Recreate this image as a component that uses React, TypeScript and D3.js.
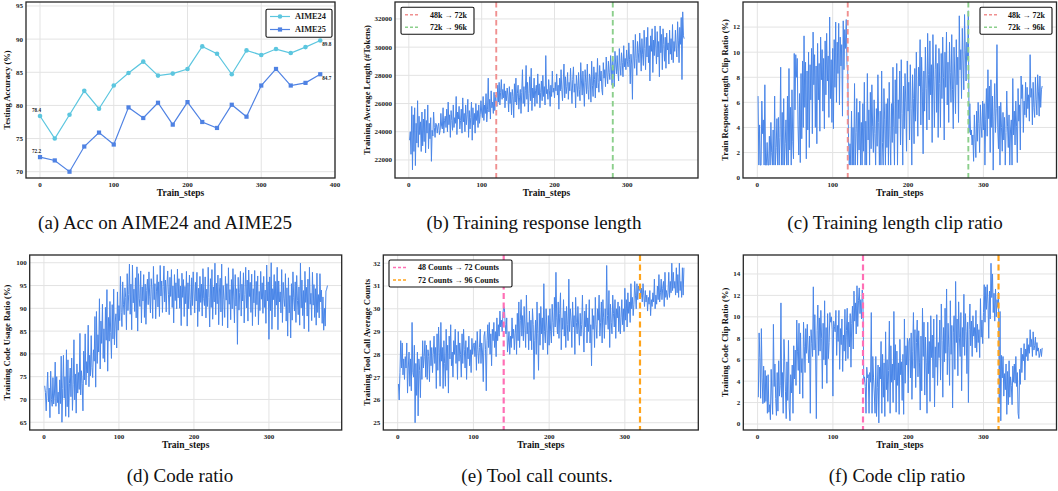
import React from "react";
import * as d3 from "d3";

const FONT = "'Liberation Serif', 'Times New Roman', serif";
const BLUE = "#4a86e8";

// ---------- Panel (a) ----------
const STEPS_A = [0, 20, 40, 60, 80, 100, 120, 140, 160, 180, 200, 220, 240, 260, 280, 300, 320, 340, 360, 380];
const AIME24 = [78.4, 75.0, 78.6, 82.2, 79.5, 83.0, 84.9, 86.6, 84.5, 84.8, 85.5, 88.9, 87.8, 84.7, 88.3, 87.6, 88.5, 87.9, 88.8, 89.8];
const AIME25 = [72.2, 71.7, 70.0, 73.8, 75.9, 74.1, 79.7, 78.1, 80.4, 77.1, 80.5, 77.5, 76.6, 80.1, 78.3, 83.0, 85.5, 83.0, 83.4, 84.7];

// ---------- Panel (b) response length ----------
const LENGTH = [
  23400, 24000, 22400, 25800, 21300, 25200, 22600, 25700, 21600, 24600, 23200, 26200, 22900, 25100, 23800, 24700, 22600, 25400, 23000, 24900,
  23300, 25600, 22500, 24800, 23900, 25900, 22800, 24600, 23500, 25000, 21900, 24100, 23700, 25400, 24300, 23600, 24600, 24500, 23900, 24400,
  24600, 23800, 24100, 25300, 24400, 24200, 25700, 23900, 24800, 25100, 24300, 25600, 24000, 26100, 24500, 25200, 23600, 25500, 24800, 24100,
  25900, 24300, 25000, 24600, 26500, 23800, 25400, 24900, 25800, 24200, 24800, 25600, 23900, 26400, 24700, 25300, 24000, 25900, 24500, 25200,
  26300, 23600, 25500, 24200, 25000, 26100, 23400, 25700, 24500, 25300, 23900, 26000, 24800, 25500, 24300, 25900, 24600, 25200, 26200, 25400,
  25000, 26500, 24800, 25900, 25300, 26700, 24700, 25600, 27800, 25400, 26300, 24900, 26900, 25700, 26100, 25300, 26800, 25500, 26600, 26000,
  25800, 27300, 26100, 27500, 25900, 26800, 27700, 26300, 27000, 26400, 27400, 25700, 26900, 26200, 27100, 26600, 25400, 27200, 26000, 26800,
  25200, 27000, 26500, 25000, 27400, 26100, 27800, 25900, 26700, 27300, 25600, 26400, 27000, 25300, 26800, 28400, 26000, 27200, 25800, 26900,
  28700, 26300, 27500, 25400, 26700, 27900, 26200, 28500, 25500, 27100, 26400, 27800, 25800, 26900, 27300, 26000, 28100, 26600, 27400, 25700,
  26800, 27600, 26200, 28000, 26500, 27200, 25900, 29400, 26700, 27000, 26300, 27700, 26900, 25800, 27300, 26500, 28300, 26800, 27100, 26400,
  27500, 26900, 28100, 26600, 27300, 25600, 27800, 26900, 28400, 27000, 26200, 27600, 28800, 26400, 27900, 26700, 27200, 28200, 26300, 27500,
  26900, 28500, 27100, 26000, 27700, 28600, 26800, 27400, 25700, 28000, 27300, 26500, 28200, 27000, 26200, 28900, 27600, 26600, 28300, 27100,
  25800, 28400, 27500, 26700, 28800, 27000, 26300, 28100, 27800, 26100, 29000, 27300, 26500, 28600, 27700, 26400, 28200, 27100, 29200, 27500,
  26800, 28700, 27600, 28300, 27000, 26600, 28900, 27800, 28400, 27200, 29300, 28000, 27400, 29000, 28200, 27700, 29400, 28600, 27300, 29100,
  28500, 27200, 29700, 28800, 28100, 29400, 28300, 27600, 29900, 28700, 28000, 29600, 28900, 27900, 30100, 28600, 29200, 28400, 29800, 29000,
  28600, 30300, 29100, 27400, 29500, 28800, 26300, 30500, 29300, 28500, 30900, 29200, 28000, 30400, 29600, 28900, 31000, 29800, 28300, 30600,
  29500, 28700, 31200, 29900, 28400, 30700, 29300, 31400, 28900, 30100, 27600, 30800, 29700, 31300, 28200, 30500, 29400, 31500, 30000, 28800,
  31100, 29300, 30400, 27900, 31500, 29600, 30900, 28400, 31300, 30200, 29000, 30700, 28500, 31000, 29800, 30300, 28800, 31200, 29500, 30600,
  29100, 31600, 28900, 30400, 29700, 31200, 30000, 29300, 31800, 30500, 28900, 31400, 30200, 32100, 27700, 32500, 30800, 30600,
];

// ---------- Panel (c) length clip ratio ----------
const LEN_CLIP = [
  6.5, 1.0, 4.2, 1.0, 1.0, 6.1, 3.5, 4.6, 1.0, 7.4, 1.0, 1.0, 2.8, 1.0, 1.0, 3.3, 1.0, 4.4, 2.0, 1.0,
  3.8, 1.0, 6.5, 1.0, 2.4, 4.7, 1.0, 4.8, 1.0, 3.2, 8.8, 1.0, 5.2, 1.0, 6.3, 1.0, 2.7, 4.6, 1.0, 6.5,
  1.0, 8.7, 2.2, 5.6, 1.0, 7.0, 2.9, 1.5, 9.9, 5.4, 9.8, 8.0, 9.5, 4.2, 1.8, 6.7, 1.2, 8.3, 3.1, 9.3,
  4.0, 11.3, 5.6, 9.2, 1.5, 8.5, 3.8, 10.0, 2.4, 9.0, 6.2, 10.3, 3.5, 11.6, 7.4, 9.8, 4.0, 8.9, 2.7, 10.7,
  6.2, 9.1, 3.7, 11.2, 7.8, 10.2, 5.3, 9.5, 3.9, 10.9, 6.6, 11.5, 7.7, 9.7, 4.8, 12.8, 6.3, 9.4, 4.4, 10.3,
  3.9, 11.0, 7.2, 12.4, 6.0, 10.8, 8.3, 12.3, 5.8, 11.2, 8.9, 10.6, 4.9, 12.5, 8.6, 11.8, 10.3, 12.6, 9.0, 8.5,
  3.1, 1.0, 2.7, 1.0, 5.3, 1.0, 4.0, 1.0, 7.5, 1.0, 3.6, 6.3, 1.0, 5.2, 2.2, 6.1, 1.0, 4.4, 1.0, 5.9,
  2.1, 7.6, 1.0, 4.5, 1.0, 8.3, 3.0, 5.4, 1.0, 6.8, 2.3, 7.4, 4.1, 2.0, 6.2, 3.5, 1.0, 5.5, 2.5, 8.2,
  4.4, 1.0, 5.3, 1.0, 8.5, 2.8, 1.0, 7.1, 4.6, 1.0, 5.9, 2.4, 6.3, 1.0, 7.6, 3.4, 1.0, 5.9, 2.8, 8.8,
  4.0, 1.0, 7.8, 3.5, 9.1, 1.0, 6.2, 4.7, 8.5, 2.6, 9.4, 5.1, 1.0, 7.3, 3.9, 8.3, 6.0, 2.1, 9.3, 5.3,
  7.6, 3.0, 9.0, 5.5, 1.0, 8.2, 6.3, 2.7, 8.7, 4.5, 10.0, 6.1, 3.3, 8.8, 7.3, 11.0, 4.2, 9.6, 6.9, 1.9,
  8.5, 5.3, 10.4, 7.1, 3.8, 11.5, 8.2, 4.6, 10.9, 6.6, 9.0, 2.8, 11.4, 7.7, 4.0, 8.6, 10.6, 5.2, 9.1, 3.2,
  10.3, 7.5, 4.0, 9.9, 6.3, 11.2, 8.0, 3.0, 10.0, 7.2, 11.6, 5.8, 9.2, 4.4, 10.8, 8.4, 6.0, 11.4, 7.0, 3.9,
  10.4, 8.1, 5.1, 11.0, 7.4, 9.6, 4.4, 12.9, 8.6, 10.2, 6.3, 11.9, 9.3, 7.0, 13.0, 10.1, 7.7, 10.8, 9.4, 13.3,
  3.6, 5.9, 3.4, 3.8, 2.6, 3.4, 1.3, 5.0, 3.0, 1.6, 5.3, 2.9, 6.0, 4.3, 2.0, 5.8, 4.1, 3.2, 6.1, 3.8,
  5.9, 1.0, 4.6, 7.1, 3.3, 8.6, 4.7, 7.3, 2.0, 7.8, 4.0, 6.5, 0.6, 4.9, 7.5, 3.6, 5.5, 10.6, 4.0, 2.3,
  5.7, 1.0, 6.0, 4.0, 2.1, 5.2, 3.0, 4.8, 1.0, 3.6, 6.9, 4.1, 2.4, 5.0, 1.0, 3.8, 4.6, 1.0, 7.9, 3.4,
  5.3, 2.6, 6.1, 4.1, 1.2, 7.1, 4.5, 5.8, 2.2, 8.1, 6.3, 7.4, 3.6, 6.1, 5.0, 7.6, 4.8, 7.2, 5.5, 6.6,
  4.5, 9.8, 6.4, 7.1, 4.2, 7.6, 5.6, 4.8, 8.0, 6.2, 5.0, 8.2, 6.9, 4.9, 8.1, 5.6, 7.0, 7.3,
];

// ---------- Panel (d) code usage ratio ----------
const CODE_RATIO = [
  73.0, 71.5, 67.5, 72.0, 76.0, 69.5, 72.5, 66.0, 76.2, 70.0, 68.5, 74.8, 69.0, 71.2, 78.2, 68.5, 75.0, 69.3, 71.6, 66.8,
  74.3, 69.1, 79.5, 65.0, 72.4, 79.7, 70.3, 75.0, 66.3, 80.9, 68.4, 78.7, 66.1, 73.5, 76.9, 70.6, 79.1, 67.6, 73.2, 83.1,
  69.9, 75.6, 67.0, 77.8, 71.4, 75.9, 72.2, 84.5, 71.0, 76.3, 73.5, 67.5, 80.6, 74.3, 84.4, 73.2, 78.3, 75.8, 86.3, 72.8,
  79.7, 75.2, 84.0, 77.0, 74.8, 80.9, 78.4, 88.2, 72.7, 89.3, 77.9, 84.2, 80.4, 92.1, 76.7, 87.2, 82.3, 90.9, 79.0, 85.5,
  78.2, 90.2, 83.0, 94.1, 76.2, 88.0, 82.8, 91.5, 84.7, 79.0, 90.8, 83.3, 94.2, 82.0, 87.0, 88.8, 81.3, 93.6, 85.2, 90.6,
  87.3, 97.0, 89.1, 86.0, 95.8, 90.9, 88.6, 94.5, 92.4, 85.3, 97.6, 89.5, 93.0, 99.7, 88.7, 95.3, 85.3, 99.5, 91.2, 94.2,
  89.3, 96.7, 87.9, 99.1, 85.0, 97.6, 92.2, 90.4, 98.2, 86.8, 94.7, 91.6, 97.4, 88.0, 95.3, 86.5, 93.9, 96.4, 90.8, 98.0,
  92.5, 89.0, 96.5, 94.2, 87.8, 99.2, 91.9, 95.4, 87.7, 93.6, 97.4, 90.3, 95.8, 88.2, 99.4, 92.7, 96.0, 89.1, 94.8, 99.3,
  91.4, 96.2, 89.2, 95.0, 98.2, 93.1, 88.6, 96.8, 92.6, 98.5, 90.2, 94.9, 86.8, 97.4, 91.7, 95.6, 89.9, 98.6, 92.3, 96.5,
  90.0, 94.9, 86.2, 97.7, 92.4, 96.3, 88.2, 94.8, 91.0, 98.1, 86.1, 95.6, 89.9, 97.3, 92.0, 88.5, 96.7, 90.6, 98.0, 93.8,
  89.0, 95.7, 91.6, 97.9, 86.0, 94.4, 89.3, 97.0, 91.3, 95.3, 88.3, 98.7, 92.1, 90.6, 96.9, 87.9, 94.2, 90.4, 99.0, 92.4,
  85.9, 96.5, 90.2, 98.5, 87.6, 94.7, 91.4, 99.9, 88.6, 95.5, 91.0, 97.3, 86.4, 93.8, 96.6, 89.2, 99.7, 86.2, 95.0, 92.0,
  88.0, 97.0, 91.8, 95.4, 85.7, 98.9, 90.9, 94.1, 87.5, 96.3, 89.9, 98.7, 92.7, 86.8, 97.4, 90.5, 94.3, 82.1, 96.8, 89.6,
  93.5, 98.1, 88.3, 95.3, 91.6, 97.8, 86.8, 93.0, 99.0, 90.1, 96.2, 87.2, 98.4, 92.6, 95.7, 89.1, 97.5, 86.2, 94.3, 91.2,
  98.3, 88.2, 95.9, 90.8, 97.1, 86.4, 93.7, 89.5, 98.1, 92.0, 95.6, 88.9, 97.0, 90.2, 94.0, 86.7, 99.5, 91.6, 95.8, 83.2,
  96.9, 89.5, 100.0, 85.4, 94.3, 91.9, 97.4, 88.1, 95.9, 90.7, 99.0, 85.3, 96.0, 91.4, 93.6, 89.0, 98.5, 86.9, 95.7, 92.1,
  90.4, 97.6, 87.2, 94.5, 83.9, 96.7, 89.0, 92.8, 83.5, 95.4, 87.4, 98.0, 92.3, 89.4, 95.8, 86.9, 97.2, 91.7, 88.6, 94.7,
  86.3, 99.9, 90.1, 96.2, 88.4, 93.9, 85.5, 98.1, 91.3, 94.6, 88.3, 96.4, 84.9, 99.0, 90.9, 93.3, 87.3, 97.9, 90.7, 95.2,
  88.0, 94.3, 86.3, 97.7, 89.1, 93.0, 87.9, 97.6, 91.4, 94.0, 86.7, 92.5, 85.2, 90.0, 86.1, 93.8, 94.2, 95.0,
];

// ---------- Panel (e) tool call counts ----------
const TOOL_CALLS = [
  26.7, 26.0, 27.2, 28.6, 27.4, 28.5, 27.1, 27.8, 26.9, 27.9, 27.4, 28.5, 26.3, 27.4, 28.1, 26.6, 27.8, 26.4, 29.4, 27.2,
  27.0, 28.4, 25.0, 27.6, 26.2, 28.1, 25.3, 27.8, 27.3, 26.1, 27.9, 26.9, 28.6, 27.4, 27.9, 28.6, 27.0, 28.4, 26.9, 28.2,
  27.9, 26.8, 28.6, 27.5, 28.3, 27.2, 28.0, 28.8, 27.6, 28.3, 26.5, 28.9, 27.3, 29.2, 28.1, 26.6, 29.4, 27.7, 28.3, 26.5,
  28.6, 27.6, 26.6, 29.1, 27.3, 28.4, 26.3, 28.8, 27.8, 29.3, 27.5, 28.1, 27.0, 28.6, 28.0, 29.1, 27.6, 28.4, 26.9, 29.0,
  27.7, 28.5, 28.0, 27.0, 28.9, 27.6, 29.1, 28.2, 27.4, 28.6, 26.9, 28.3, 27.8, 28.8, 27.5, 28.2, 27.2, 28.7, 28.0, 28.4,
  28.5, 27.9, 28.6, 27.3, 29.0, 28.2, 27.6, 28.3, 29.1, 27.6, 28.5, 28.1, 26.8, 28.8, 29.0, 28.2, 26.4, 28.6, 29.3, 28.3,
  29.4, 28.0, 28.9, 27.5, 29.1, 28.6, 29.4, 28.3, 29.0, 27.9, 29.6, 28.6, 29.3, 28.8, 29.9, 29.2, 29.5, 29.0, 29.8, 30.1,
  30.0, 29.3, 28.9, 29.6, 28.1, 28.5, 29.0, 28.0, 28.8, 28.3, 29.6, 28.7, 29.1, 28.2, 28.9, 29.3, 28.0, 29.8, 28.6, 30.3,
  28.3, 29.5, 30.4, 28.8, 29.7, 28.6, 30.1, 29.2, 28.3, 30.6, 28.9, 29.4, 28.2, 29.9, 28.6, 29.5, 28.2, 30.0, 29.3, 26.9,
  28.6, 29.5, 28.0, 30.3, 28.9, 27.3, 29.8, 28.4, 30.1, 28.9, 29.6, 28.2, 31.1, 29.0, 28.5, 30.0, 29.2, 28.0, 29.7, 28.4,
  30.0, 29.0, 28.5, 30.2, 29.4, 28.8, 30.5, 29.2, 31.6, 29.6, 28.9, 30.3, 28.7, 29.8, 30.7, 28.2, 29.6, 29.1, 30.4, 28.8,
  29.9, 28.3, 30.1, 29.3, 28.6, 31.3, 29.0, 30.0, 29.5, 28.3, 30.3, 29.2, 29.7, 28.0, 30.5, 29.4, 28.9, 30.1, 29.2, 28.4,
  29.8, 28.8, 29.3, 30.6, 29.0, 28.1, 29.9, 29.2, 30.2, 28.5, 29.6, 29.0, 30.4, 28.5, 29.3, 27.5, 30.0, 29.1, 29.7, 28.3,
  30.5, 29.3, 28.7, 30.0, 29.5, 30.6, 28.8, 29.4, 30.3, 28.5, 30.4, 29.6, 28.7, 30.0, 29.3, 31.9, 29.7, 29.1, 30.8, 28.3,
  30.2, 29.4, 28.9, 30.6, 29.8, 29.2, 30.4, 28.7, 30.0, 29.6, 30.3, 29.0, 30.1, 28.9, 29.6, 30.4, 29.3, 30.0, 29.0, 30.9,
  29.5, 30.4, 29.2, 30.7, 29.8, 30.3, 29.4, 31.1, 30.0, 30.5, 29.7, 30.2, 31.2, 30.6, 30.0, 31.1, 30.4, 31.0, 30.8, 31.0,
  30.5, 30.9, 30.3, 31.1, 30.6, 30.1, 30.8, 30.3, 30.6, 29.9, 30.5, 30.2, 30.8, 29.7, 30.4, 30.1, 30.7, 30.3, 31.3, 30.0,
  30.6, 30.2, 31.0, 30.4, 31.5, 30.3, 30.7, 31.3, 30.4, 30.9, 31.2, 30.1, 31.6, 30.5, 30.8, 30.4, 30.7, 31.6, 30.5, 31.2,
  30.7, 32.0, 30.8, 31.6, 30.9, 31.2, 30.6, 31.8, 30.7, 31.5, 30.5, 32.0, 30.8, 31.2, 30.5, 31.8, 30.6, 31.8,
];

// ---------- Panel (f) code clip ratio ----------
const CODE_CLIP = [
  2.5, 8.5, 6.2, 2.4, 8.9, 4.3, 1.9, 5.4, 2.0, 5.0, 2.1, 4.5, 1.0, 4.6, 1.1, 1.8, 0.4, 5.1, 2.7, 0.9,
  9.3, 3.5, 5.6, 2.4, 0.8, 4.8, 1.2, 5.9, 2.6, 3.6, 11.3, 2.5, 4.8, 1.0, 7.9, 5.8, 3.0, 0.5, 5.8, 2.2,
  7.8, 1.5, 0.3, 4.6, 2.9, 5.5, 1.0, 7.3, 4.2, 6.9, 3.6, 9.7, 6.8, 5.0, 9.4, 2.8, 8.5, 4.8, 6.1, 2.4,
  9.5, 7.2, 4.8, 8.9, 6.6, 9.3, 7.0, 5.7, 8.2, 1.0, 8.8, 7.5, 6.3, 12.8, 6.9, 10.2, 7.0, 0.5, 8.7, 11.1,
  6.4, 9.9, 6.8, 10.6, 8.0, 3.3, 9.4, 6.0, 11.5, 5.5, 9.0, 3.8, 10.3, 6.1, 7.6, 10.4, 9.5, 10.0, 8.8, 2.6,
  9.6, 9.1, 8.6, 10.6, 6.4, 9.2, 7.7, 10.6, 5.1, 8.9, 7.4, 9.8, 4.9, 8.3, 6.8, 10.7, 5.9, 8.7, 10.8, 6.1,
  9.5, 7.2, 10.3, 5.3, 9.4, 11.0, 7.0, 12.4, 9.6, 11.3, 8.4, 12.9, 9.1, 11.5, 12.7, 10.3, 11.6, 9.8, 12.5, 11.4,
  3.9, 4.4, 3.5, 1.0, 5.3, 4.3, 4.6, 1.0, 4.8, 3.9, 10.4, 1.0, 6.3, 4.3, 2.8, 1.0, 6.3, 0.7, 3.4, 5.5,
  0.1, 5.3, 4.2, 7.7, 1.0, 6.5, 2.5, 5.7, 0.7, 8.6, 3.2, 6.0, 2.1, 5.0, 9.6, 1.0, 7.3, 3.9, 5.6, 2.0,
  10.5, 4.1, 7.4, 1.1, 6.8, 3.6, 5.7, 0.9, 7.9, 4.6, 5.8, 2.2, 6.5, 0.9, 9.8, 3.8, 7.3, 5.5, 8.0, 2.9,
  7.7, 8.0, 4.3, 8.5, 2.3, 6.8, 10.4, 5.2, 8.8, 3.4, 7.6, 9.7, 4.4, 8.7, 5.7, 1.3, 8.2, 3.1, 10.8, 6.3,
  9.5, 2.7, 8.1, 5.7, 1.0, 9.5, 4.7, 7.7, 2.1, 10.1, 6.2, 8.3, 4.3, 9.8, 1.6, 7.2, 5.3, 10.2, 3.6, 7.6,
  6.2, 9.7, 4.1, 11.2, 7.8, 2.5, 9.0, 5.8, 10.8, 6.6, 12.6, 4.6, 9.4, 7.1, 3.6, 11.5, 6.5, 9.2, 1.5, 8.5,
  10.1, 5.1, 13.3, 7.6, 9.8, 4.5, 11.4, 8.1, 6.3, 10.4, 3.1, 9.0, 7.2, 12.1, 6.4, 10.3, 8.6, 4.7, 9.5, 2.0,
  8.8, 11.2, 7.3, 9.6, 6.3, 10.1, 8.2, 9.0, 7.1, 10.6, 6.7, 9.3, 7.6, 8.8, 6.2, 11.7, 8.1, 9.7, 7.5, 10.4,
  13.0, 9.5, 12.8, 10.7, 13.0, 11.2, 8.0, 12.4, 9.8, 15.0, 11.8, 14.0, 10.4, 12.2, 9.6, 12.6, 10.0, 11.6, 10.9, 12.3,
  1.9, 10.5, 0.3, 6.4, 4.3, 6.3, 2.6, 4.7, 3.2, 5.6, 0.9, 4.9, 1.8, 5.9, 2.5, 4.4, 3.6, 1.8, 5.4, 3.9,
  5.6, 3.8, 6.3, 3.5, 4.8, 1.0, 0.5, 5.1, 3.7, 7.1, 4.8, 6.5, 5.9, 7.5, 4.1, 7.0, 6.3, 8.0, 5.9, 7.4,
  6.6, 8.8, 7.2, 7.9, 6.3, 8.6, 6.9, 7.3, 8.1, 6.4, 7.6, 6.8, 7.1, 6.2, 6.6, 7.0, 6.3, 7.1,
];

const FIRST_STEP = 1;

// tick values
const X_TICKS_A = [0, 100, 200, 300, 400];
const X_TICKS = [0, 100, 200, 300];
const Y_TICKS_A = [70, 75, 80, 85, 90, 95];
const Y_TICKS_B = [22000, 24000, 26000, 28000, 30000, 32000];
const Y_TICKS_C = [0, 2, 4, 6, 8, 10, 12];
const Y_TICKS_D = [65, 70, 75, 80, 85, 90, 95, 100];
const Y_TICKS_E = [25, 26, 27, 28, 29, 30, 31, 32];
const Y_TICKS_F = [0, 2, 4, 6, 8, 10, 12, 14];

const LEGEND_LEN = ["48k → 72k", "72k → 96k"];
const LEGEND_CNT = ["48 Counts → 72 Counts", "72 Counts → 96 Counts"];
const SWITCH_LEN = [120, 280];
const SWITCH_CNT = [140, 320];

type Box = { l: number; r: number; t: number; b: number };

function stepsOf(arr: number[]) {
  return arr.map((_, i) => i + FIRST_STEP);
}

type PanelProps = {
  id: string;
  box: Box;
  xDomain: [number, number];
  yDomain: [number, number];
  xTicks: number[];
  yTicks: number[];
  yLabel: string;
  yLabelX: number;
  render: (x: d3.ScaleLinear<number, number>, y: d3.ScaleLinear<number, number>) => React.ReactNode;
  overlay?: (x: d3.ScaleLinear<number, number>, y: d3.ScaleLinear<number, number>) => React.ReactNode;
};

function Panel({ id, box, xDomain, yDomain, xTicks, yTicks, yLabel, yLabelX, render, overlay }: PanelProps) {
  const x = d3.scaleLinear().domain(xDomain).range([box.l, box.r]);
  const y = d3.scaleLinear().domain(yDomain).range([box.b, box.t]);
  const cx = (box.l + box.r) / 2;
  const cy = (box.t + box.b) / 2;
  return (
    <g style={{ fontFamily: FONT }}>
      <defs>
        <clipPath id={id}>
          <rect x={box.l} y={box.t} width={box.r - box.l} height={box.b - box.t} />
        </clipPath>
      </defs>
      <rect x={box.l} y={box.t} width={box.r - box.l} height={box.b - box.t} fill="#fff" />
      {xTicks.map((t) => (
        <line key={"gx" + t} x1={x(t)} x2={x(t)} y1={box.t} y2={box.b} stroke="#e3e3e3" strokeWidth={1} />
      ))}
      {yTicks.map((t) => (
        <line key={"gy" + t} x1={box.l} x2={box.r} y1={y(t)} y2={y(t)} stroke="#e3e3e3" strokeWidth={1} />
      ))}
      <g clipPath={`url(#${id})`}>{render(x, y)}</g>
      <rect x={box.l} y={box.t} width={box.r - box.l} height={box.b - box.t} fill="none" stroke="#262626" strokeWidth={1.3} />
      {overlay ? overlay(x, y) : null}
      {xTicks.map((t) => (
        <text key={"tx" + t} x={x(t)} y={box.b + 9} textAnchor="middle" fontSize={7} fontWeight="bold" fill="#222">
          {t}
        </text>
      ))}
      {yTicks.map((t) => (
        <text key={"ty" + t} x={box.l - 3} y={y(t) + 2.4} textAnchor="end" fontSize={7} fontWeight="bold" fill="#222">
          {t}
        </text>
      ))}
      <text x={cx} y={box.b + 17.5} textAnchor="middle" fontSize={9.5} fontWeight="bold" fill="#111">
        Train_steps
      </text>
      <text transform={`translate(${yLabelX},${cy}) rotate(-90)`} textAnchor="middle" fontSize={8.6} fontWeight="bold" fill="#111">
        {yLabel}
      </text>
    </g>
  );
}

function seriesPath(xs: number[], ys: number[], x: d3.ScaleLinear<number, number>, y: d3.ScaleLinear<number, number>) {
  const line = d3
    .line<number>()
    .x((_, i) => x(xs[i]))
    .y((d) => y(d));
  return line(ys) || "";
}

function VLines({ steps, colors, x, box, width, dash }: { steps: number[]; colors: string[]; x: d3.ScaleLinear<number, number>; box: Box; width: number; dash: string }) {
  return (
    <g>
      {steps.map((s, i) => (
        <line key={s} x1={x(s)} x2={x(s)} y1={box.t} y2={box.b} stroke={colors[i]} strokeWidth={width} strokeDasharray={dash} />
      ))}
    </g>
  );
}

function DashLegend({ x0, y0, w, labels, colors, width, dash, textX }: { x0: number; y0: number; w: number; labels: string[]; colors: string[]; width: number; dash: string; textX: number }) {
  const rowH = 12.5;
  return (
    <g>
      <rect x={x0} y={y0} width={w} height={27} rx={1.5} fill="#fff" stroke="#111" strokeWidth={1.1} />
      {labels.map((lab, i) => (
        <g key={lab}>
          <line x1={x0 + 4} x2={x0 + 18} y1={y0 + 7.5 + i * rowH} y2={y0 + 7.5 + i * rowH} stroke={colors[i]} strokeWidth={width} strokeDasharray={dash} />
          <text x={x0 + textX} y={y0 + 10.3 + i * rowH} fontSize={8} fontWeight="bold" fill="#111">
            {lab}
          </text>
        </g>
      ))}
    </g>
  );
}

const CAP = { fontSize: 19, fill: "#111", style: { fontFamily: FONT } } as const;
const LW = 1.0;

export default function App() {
  const boxA: Box = { l: 26, r: 335, t: 2, b: 178 };
  const boxB: Box = { l: 395, r: 698, t: 2, b: 178 };
  const boxC: Box = { l: 743, r: 1056.5, t: 2, b: 178 };
  const boxD: Box = { l: 29.7, r: 341.7, t: 255, b: 430 };
  const boxE: Box = { l: 383.3, r: 698.3, t: 255, b: 430 };
  const boxF: Box = { l: 743.3, r: 1056.5, t: 255, b: 430 };
  const xDom: [number, number] = [-19, 397];
  const c24 = "#5cc6df";
  const c25 = "#4f82e3";
  const lenColors = ["#f09090", "#8ccf8c"];
  const cntColors = ["#ff6fb5", "#ffa31a"];

  return (
    <div>
      <style>{`body{margin:0;background:#fff}`}</style>
      <svg width={1058} height={491} viewBox="0 0 1058 491" style={{ display: "block", fontFamily: FONT }}>
        <rect x={0} y={0} width={1058} height={491} fill="#fff" />
        {/* (a) */}
        <Panel
          id="clipA"
          box={boxA}
          xDomain={[-19, 400]}
          yDomain={[69.05, 95.6]}
          xTicks={X_TICKS_A}
          yTicks={Y_TICKS_A}
          yLabel="Testing Accuracy (%)"
          yLabelX={10}
          render={(x, y) => (
            <g>
              <path d={seriesPath(STEPS_A, AIME24, x, y)} fill="none" stroke={c24} strokeWidth={1.2} />
              <path d={seriesPath(STEPS_A, AIME25, x, y)} fill="none" stroke={c25} strokeWidth={1.2} />
              {STEPS_A.map((s, i) => (
                <circle key={"c" + s} cx={x(s)} cy={y(AIME24[i])} r={2.3} fill={c24} />
              ))}
              {STEPS_A.map((s, i) => (
                <rect key={"s" + s} x={x(s) - 2.1} y={y(AIME25[i]) - 2.1} width={4.2} height={4.2} fill={c25} />
              ))}
            </g>
          )}
          overlay={(x, y) => {
            const last = STEPS_A.length - 1;
            return (
              <g fontSize={5.2} fontWeight="bold" fill="#222">
                <text x={x(STEPS_A[0]) - 8} y={y(AIME24[0]) - 4.5}>{AIME24[0].toFixed(1)}</text>
                <text x={x(STEPS_A[0]) - 8} y={y(AIME25[0]) - 4.5}>{AIME25[0].toFixed(1)}</text>
                <text x={x(STEPS_A[last]) + 2} y={y(AIME24[last]) + 5.5}>{AIME24[last].toFixed(1)}</text>
                <text x={x(STEPS_A[last]) + 2} y={y(AIME25[last]) + 5.5}>{AIME25[last].toFixed(1)}</text>
                <rect x={266} y={9.3} width={66} height={28} rx={1.5} fill="#fff" stroke="#111" strokeWidth={1.1} />
                <line x1={270} x2={290} y1={16.5} y2={16.5} stroke={c24} strokeWidth={1.2} />
                <circle cx={280} cy={16.5} r={2.3} fill={c24} />
                <text x={295} y={19.3} fontSize={8.3}>AIME24</text>
                <line x1={270} x2={290} y1={29.5} y2={29.5} stroke={c25} strokeWidth={1.2} />
                <rect x={277.9} y={27.4} width={4.2} height={4.2} fill={c25} />
                <text x={295} y={32.3} fontSize={8.3}>AIME25</text>
              </g>
            );
          }}
        />
        {/* (b) */}
        <Panel
          id="clipB"
          box={boxB}
          xDomain={xDom}
          yDomain={[20720, 33200]}
          xTicks={X_TICKS}
          yTicks={Y_TICKS_B}
          yLabel="Training Average Length (#Tokens)"
          yLabelX={370}
          render={(x, y) => (
            <g>
              <path d={seriesPath(stepsOf(LENGTH), LENGTH, x, y)} fill="none" stroke={BLUE} strokeWidth={LW} strokeLinejoin="round" />
              <VLines steps={SWITCH_LEN} colors={lenColors} x={x} box={boxB} width={1.9} dash="5.5 3.5" />
            </g>
          )}
          overlay={() => (
            <DashLegend x0={401} y0={7.3} w={73} labels={LEGEND_LEN} colors={lenColors} width={1.4} dash="3 2" textX={29} />
          )}
        />
        {/* (c) */}
        <Panel
          id="clipC"
          box={boxC}
          xDomain={xDom}
          yDomain={[-0.03, 14.0]}
          xTicks={X_TICKS}
          yTicks={Y_TICKS_C}
          yLabel="Train Response Length Clip Ratio (%)"
          yLabelX={728}
          render={(x, y) => (
            <g>
              <path d={seriesPath(stepsOf(LEN_CLIP), LEN_CLIP, x, y)} fill="none" stroke={BLUE} strokeWidth={LW} strokeLinejoin="round" />
              <VLines steps={SWITCH_LEN} colors={lenColors} x={x} box={boxC} width={1.9} dash="5.5 3.5" />
            </g>
          )}
          overlay={() => (
            <DashLegend x0={980} y0={7.3} w={72} labels={LEGEND_LEN} colors={lenColors} width={1.4} dash="3 2" textX={28} />
          )}
        />
        {/* (d) */}
        <Panel
          id="clipD"
          box={boxD}
          xDomain={xDom}
          yDomain={[63.3, 101.7]}
          xTicks={X_TICKS}
          yTicks={Y_TICKS_D}
          yLabel="Training Code Usage Ratio (%)"
          yLabelX={10}
          render={(x, y) => (
            <path d={seriesPath(stepsOf(CODE_RATIO), CODE_RATIO, x, y)} fill="none" stroke={BLUE} strokeWidth={LW} strokeLinejoin="round" />
          )}
        />
        {/* (e) */}
        <Panel
          id="clipE"
          box={boxE}
          xDomain={xDom}
          yDomain={[24.68, 32.36]}
          xTicks={X_TICKS}
          yTicks={Y_TICKS_E}
          yLabel="Training Tool Call Average Counts"
          yLabelX={370}
          render={(x, y) => (
            <g>
              <path d={seriesPath(stepsOf(TOOL_CALLS), TOOL_CALLS, x, y)} fill="none" stroke={BLUE} strokeWidth={LW} strokeLinejoin="round" />
              <VLines steps={SWITCH_CNT} colors={cntColors} x={x} box={boxE} width={2.2} dash="6 3.5" />
            </g>
          )}
          overlay={() => (
            <DashLegend x0={389} y0={260} w={123} labels={LEGEND_CNT} colors={cntColors} width={1.5} dash="3 2" textX={29} />
          )}
        />
        {/* (f) */}
        <Panel
          id="clipF"
          box={boxF}
          xDomain={xDom}
          yDomain={[-0.56, 15.77]}
          xTicks={X_TICKS}
          yTicks={Y_TICKS_F}
          yLabel="Training Code Clip Ratio (%)"
          yLabelX={728}
          render={(x, y) => (
            <g>
              <path d={seriesPath(stepsOf(CODE_CLIP), CODE_CLIP, x, y)} fill="none" stroke={BLUE} strokeWidth={LW} strokeLinejoin="round" />
              <VLines steps={SWITCH_CNT} colors={cntColors} x={x} box={boxF} width={2.2} dash="6 3.5" />
            </g>
          )}
        />
        {/* captions */}
        <text x={165} y={229} textAnchor="middle" {...CAP}>(a) Acc on AIME24 and AIME25</text>
        <text x={534} y={229} textAnchor="middle" {...CAP}>(b) Training response length</text>
        <text x={895} y={229} textAnchor="middle" {...CAP}>(c) Training length clip ratio</text>
        <text x={180} y={482} textAnchor="middle" {...CAP}>(d) Code ratio</text>
        <text x={537} y={482} textAnchor="middle" {...CAP}>(e) Tool call counts.</text>
        <text x={897} y={482} textAnchor="middle" {...CAP}>(f) Code clip ratio</text>
      </svg>
    </div>
  );
}
